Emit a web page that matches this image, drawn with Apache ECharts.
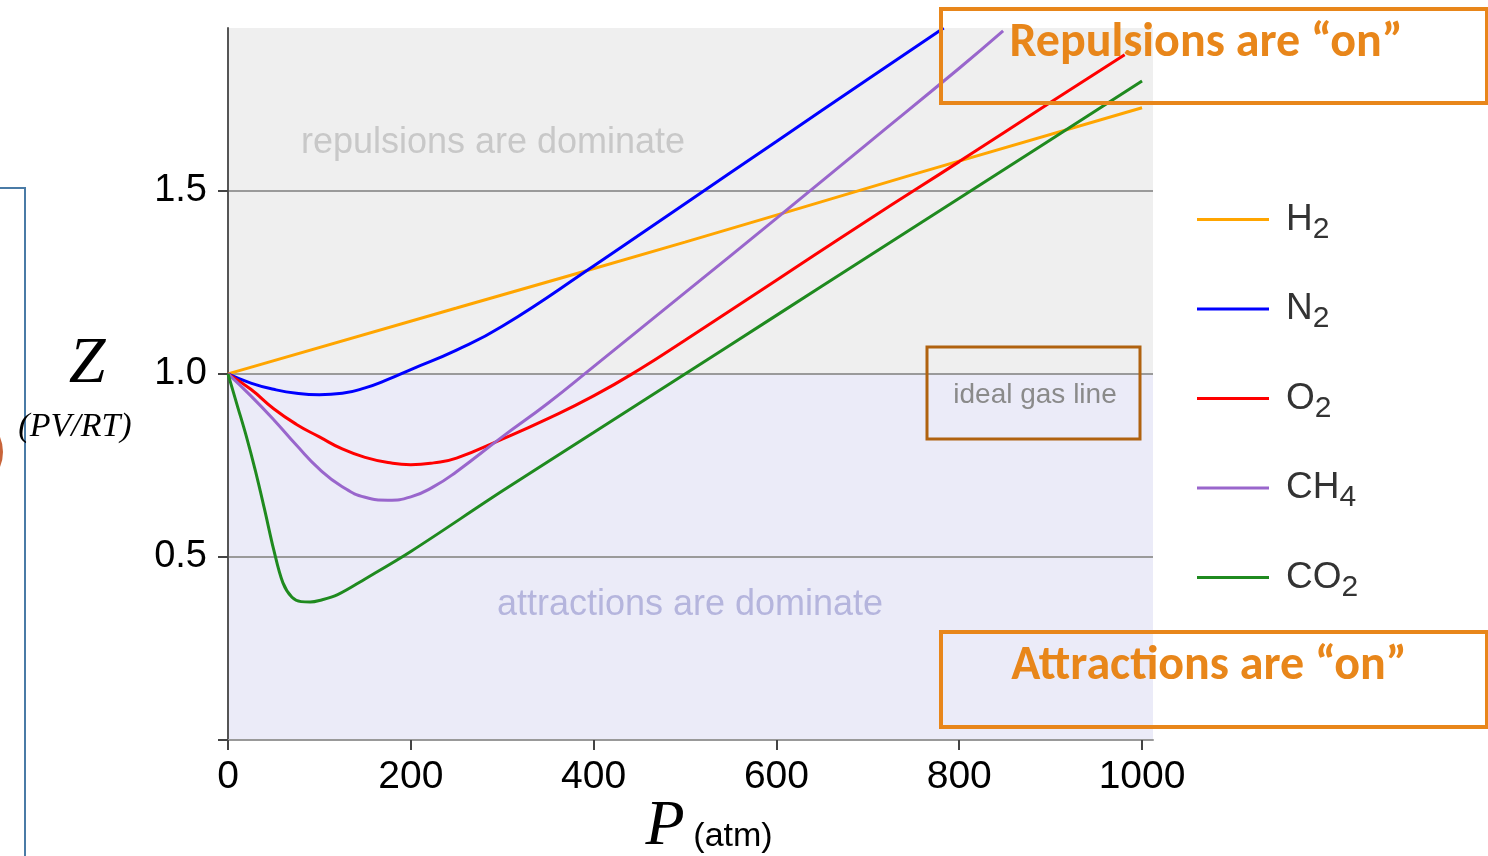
<!DOCTYPE html>
<html>
<head>
<meta charset="utf-8">
<script src="https://cdn.jsdelivr.net/npm/echarts@6/dist/echarts.min.js"></script>
<style>
html,body{margin:0;padding:0;background:#fff;}
#c{width:1488px;height:856px;}
</style>
</head>
<body>
<div id="c"></div>
<script>
// ---- data ----
const xTicks = [0, 200, 400, 600, 800, 1000];
const yTicks = [0, 0.5, 1.0, 1.5];
const yLabels = [0.5, 1.0, 1.5];

const gasNames = ['H2', 'N2', 'O2', 'CH4', 'CO2'];

const h2P = [0, 250, 500, 750, 1000];
const h2Z = [1.0, 1.18, 1.36, 1.545, 1.727];

const n2P = [0, 25, 50, 75, 100, 125, 150, 175, 200, 250, 300, 400, 500, 600, 700, 783];
const n2Z = [1.0, 0.975, 0.958, 0.947, 0.943, 0.947, 0.962, 0.985, 1.012, 1.065, 1.13, 1.295, 1.465, 1.635, 1.805, 1.945];

const o2P = [0, 25, 50, 75, 100, 125, 150, 175, 200, 225, 250, 300, 350, 400, 450, 500, 600, 700, 800, 900, 981];
const o2Z = [1.0, 0.958, 0.905, 0.862, 0.828, 0.795, 0.772, 0.758, 0.752, 0.757, 0.770, 0.822, 0.878, 0.94, 1.012, 1.092, 1.256, 1.42, 1.58, 1.742, 1.872];

const ch4P = [0, 25, 50, 75, 100, 125, 150, 175, 200, 225, 250, 300, 350, 400, 500, 600, 700, 800, 848];
const ch4Z = [1.0, 0.94, 0.875, 0.805, 0.74, 0.692, 0.663, 0.655, 0.664, 0.692, 0.733, 0.828, 0.92, 1.02, 1.222, 1.425, 1.63, 1.835, 1.937];

const co2P = [0, 10, 20, 30, 40, 50, 60, 70, 80, 90, 100, 120, 150, 200, 300, 400, 500, 600, 700, 800, 900, 1000];
const co2Z = [1.0, 0.915, 0.83, 0.735, 0.63, 0.52, 0.43, 0.39, 0.378, 0.377, 0.381, 0.397, 0.44, 0.515, 0.68, 0.84, 1.0, 1.16, 1.32, 1.48, 1.64, 1.80];

const gasColors = ['#ffa500', '#0000ff', '#ff0000', '#9966cc', '#1f8a1f'];
const gasSmooth = [0.5, 0.5, 0.5, 0.5, 0.35];

// ---- build ----
const zip = (a, b) => a.map((v, i) => [v, b[i]]);
const seriesData = [zip(h2P, h2Z), zip(n2P, n2Z), zip(o2P, o2Z), zip(ch4P, ch4Z), zip(co2P, co2Z)];

const X_MAX = 1012, Y_MAX = 1.945;
const SANS = '"Liberation Sans", Arial, Helvetica, sans-serif';
const SERIF = '"Liberation Serif", "Times New Roman", serif';
const CAL = 'Carlito, Lato, "Open Sans", sans-serif';

const series = gasNames.map((n, i) => ({
  name: n,
  type: 'line',
  data: seriesData[i],
  showSymbol: false,
  smooth: gasSmooth[i],
  z: 3,
  lineStyle: { color: gasColors[i], width: 3 },
  itemStyle: { color: gasColors[i] }
}));

// background bands
series.push({
  name: 'bg',
  type: 'line',
  data: [],
  silent: true,
  markArea: {
    silent: true,
    z: -1,
    data: [
      [{ xAxis: 0, yAxis: 1.0, itemStyle: { color: '#efefef' } }, { xAxis: X_MAX, yAxis: Y_MAX }],
      [{ xAxis: 0, yAxis: 0, itemStyle: { color: '#ebebf8' } }, { xAxis: X_MAX, yAxis: 1.0 }]
    ]
  }
});

function txt(text, x, y, color, font) {
  return {
    type: 'text', z: 10,
    style: {
      text: text, x: x, y: y,
      fill: color,
      font: font,
      textAlign: 'center', textVerticalAlign: 'middle',
      align: 'center', verticalAlign: 'middle'
    }
  };
}

const option = {
  animation: false,
  backgroundColor: '#ffffff',
  grid: { left: 228, top: 28, width: 925, height: 712, containLabel: false, outerBoundsMode: 'none' },
  xAxis: {
    type: 'value', min: 0, max: X_MAX, interval: 200,
    axisLine: { show: true, lineStyle: { color: '#999', width: 2 } },
    axisTick: { show: true, length: 10, customValues: xTicks, lineStyle: { color: '#444', width: 2 } },
    axisLabel: { customValues: xTicks, margin: 18, fontSize: 39, color: '#000', fontFamily: SANS,
      formatter: v => String(v) },
    splitLine: { show: false }
  },
  yAxis: {
    type: 'value', min: 0, max: Y_MAX, interval: 0.5,
    axisLine: { show: true, lineStyle: { color: '#555', width: 2 } },
    axisTick: { show: true, length: 10, customValues: yTicks, lineStyle: { color: '#444', width: 2 } },
    axisLabel: { customValues: yLabels, margin: 21, fontSize: 38, color: '#000', fontFamily: SANS,
      formatter: v => v.toFixed(1) },
    splitLine: { show: true, lineStyle: { color: '#9a9a9a', width: 2 } }
  },
  legend: {
    orient: 'vertical', left: 1197, top: 201, padding: 0,
    data: gasNames,
    icon: 'rect', itemWidth: 72, itemHeight: 3, itemGap: 46,
    selectedMode: false,
    formatter: name => {
      const m = name.match(/^([A-Za-z]+)(\d+)$/);
      return '{sp| }{n|' + m[1] + '}{s|' + m[2] + '}';
    },
    textStyle: {
      color: '#333', fontFamily: SANS, fontSize: 37,
      rich: {
        sp: { width: 12, fontSize: 10, lineHeight: 50 },
        n: { fontSize: 37, lineHeight: 50, color: '#333', fontFamily: SANS },
        s: { fontSize: 30, lineHeight: 12, verticalAlign: 'bottom', color: '#333', fontFamily: SANS }
      }
    }
  },
  graphic: [
    // left-edge decorations
    { type: 'polyline', z: 10, shape: { points: [[0, 188], [25, 188], [25, 860]] }, style: { stroke: '#4a7ba6', lineWidth: 2, fill: null } },
    { type: 'circle', z: 10, shape: { cx: -36, cy: 452, r: 39 }, style: { fill: '#c8643a' } },
    // axis titles
    txt('Z', 87, 365, '#000', 'italic 66px ' + SERIF),
    txt('(PV/RT)', 75, 427, '#000', 'italic 34px ' + SERIF),
    txt('P', 665, 827, '#000', 'italic 64px ' + SERIF),
    txt('(atm)', 733, 837, '#000', '34px ' + SANS),
    // region notes
    txt('repulsions are dominate', 493, 143, '#c8c8c8', '36px ' + SANS),
    txt('attractions are dominate', 690, 605, '#b5b5dd', '36px ' + SANS),
    txt('ideal gas line', 1035, 395, '#8a8a8a', '28px ' + SANS),
    { type: 'rect', z: 10, shape: { x: 927, y: 347, width: 213, height: 92 }, style: { stroke: '#b0620f', lineWidth: 3, fill: null } },
    // callout boxes
    { type: 'rect', z: 10, shape: { x: 941, y: 9, width: 546, height: 94 }, style: { stroke: '#e8861a', lineWidth: 4, fill: null } },
    txt('Repulsions are \u201con\u201d', 1206, 44, '#e8861a', 'bold 48px ' + CAL),
    { type: 'rect', z: 10, shape: { x: 941, y: 632, width: 546, height: 95 }, style: { stroke: '#e8861a', lineWidth: 4, fill: null } },
    txt('Attractions are \u201con\u201d', 1209, 667, '#e8861a', 'bold 48px ' + CAL)
  ],
  series: series
};

const chart = echarts.init(document.getElementById('c'), null, { renderer: 'canvas' });
chart.setOption(option);
</script>
</body>
</html>
